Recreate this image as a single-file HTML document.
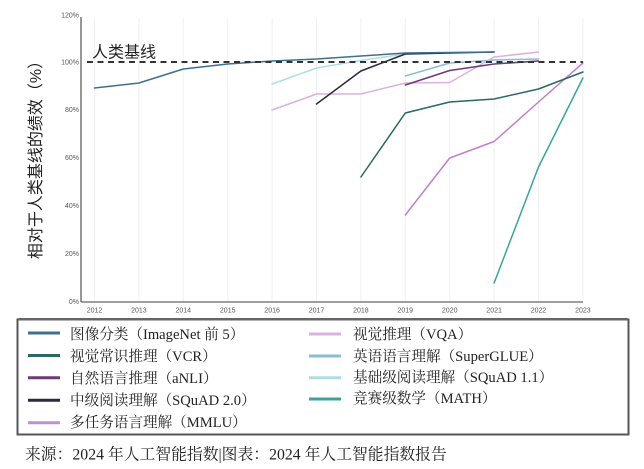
<!DOCTYPE html>
<html>
<head>
<meta charset="utf-8">
<style>
html,body{margin:0;padding:0;background:#fff;}
body{width:644px;height:469px;overflow:hidden;}
svg{display:block;}
.tick{font-family:"Liberation Sans",sans-serif;font-size:7px;fill:#555;}
.leg{font-family:"Liberation Serif","Noto Serif CJK SC",serif;font-size:14.6px;fill:#222;}
</style>
</head>
<body>
<svg width="644" height="469" viewBox="0 0 644 469" xmlns="http://www.w3.org/2000/svg">
  <rect x="0" y="0" width="644" height="469" fill="#fff"/>
  <g stroke="#f1f1f1" stroke-width="1">
    <line x1="94.5" y1="18" x2="94.5" y2="301"/>
    <line x1="138.9" y1="18" x2="138.9" y2="301"/>
    <line x1="183.3" y1="18" x2="183.3" y2="301"/>
    <line x1="227.7" y1="18" x2="227.7" y2="301"/>
    <line x1="272.1" y1="18" x2="272.1" y2="301"/>
    <line x1="316.5" y1="18" x2="316.5" y2="301"/>
    <line x1="360.9" y1="18" x2="360.9" y2="301"/>
    <line x1="405.3" y1="18" x2="405.3" y2="301"/>
    <line x1="449.7" y1="18" x2="449.7" y2="301"/>
    <line x1="494.1" y1="18" x2="494.1" y2="301"/>
    <line x1="538.5" y1="18" x2="538.5" y2="301"/>
    <line x1="582.9" y1="18" x2="582.9" y2="301"/>
  </g>
  <line x1="81" y1="17" x2="81" y2="302" stroke="#777" stroke-width="1.5"/>
  <line x1="81" y1="302" x2="583" y2="302" stroke="#666" stroke-width="1.3"/>
  <g class="tick" text-anchor="end">
    <text x="79" y="17.5">120%</text>
    <text x="79" y="64.5">100%</text>
    <text x="79" y="112">80%</text>
    <text x="79" y="160">60%</text>
    <text x="79" y="208">40%</text>
    <text x="79" y="256">20%</text>
    <text x="79" y="304">0%</text>
  </g>
  <g class="tick" text-anchor="middle">
    <text x="94.5" y="312.5">2012</text>
    <text x="138.9" y="312.5">2013</text>
    <text x="183.3" y="312.5">2014</text>
    <text x="227.7" y="312.5">2015</text>
    <text x="272.1" y="312.5">2016</text>
    <text x="316.5" y="312.5">2017</text>
    <text x="360.9" y="312.5">2018</text>
    <text x="405.3" y="312.5">2019</text>
    <text x="449.7" y="312.5">2020</text>
    <text x="494.1" y="312.5">2021</text>
    <text x="538.5" y="312.5">2022</text>
    <text x="582.9" y="312.5">2023</text>
  </g>
  <text transform="translate(41,156) rotate(-90)" text-anchor="middle" font-family="'Liberation Sans','Noto Sans CJK SC',sans-serif" font-size="16" fill="#222">相对于人类基线的绩效（%）</text>

  <g fill="none" stroke-width="1.5" stroke-linejoin="round" stroke-linecap="round">
    <polyline stroke="#b0dde4" points="272.1,84 316.5,68 360.9,60.5 405.3,54 449.7,53"/>
    <polyline stroke="#8bbcd8" points="405.3,76 449.7,63 494.1,60 538.5,59"/>
    <polyline stroke="#dcb0e0" points="272.1,110 316.5,94 360.9,94 405.3,83 449.7,82.5 494.1,57 538.5,52"/>
    <polyline stroke="#c07fcf" points="405.3,215 449.7,158 494.1,141.5 538.5,102 582.9,63"/>
    <polyline stroke="#3aa39c" points="494.1,283 538.5,167 582.9,78"/>
    <polyline stroke="#2a6864" points="360.9,177 405.3,113 449.7,102 494.1,99 538.5,89 582.9,72"/>
    <polyline stroke="#6b3a78" points="405.3,85 449.7,70.5 494.1,64 538.5,61"/>
    <polyline stroke="#2a2a45" points="316.5,104 360.9,71 405.3,54 449.7,53 494.1,52"/>
    <polyline stroke="#3f6f8f" points="94.5,88 138.9,83 183.3,69 227.7,64 272.1,61 316.5,59 360.9,56 405.3,53 449.7,52.5 494.1,52"/>
  </g>

  <line x1="87" y1="62" x2="583" y2="62" stroke="#333" stroke-width="2" stroke-dasharray="6,4.5"/>
  <text x="92" y="57.5" font-family="'Liberation Sans','Noto Sans CJK SC',sans-serif" font-size="16" fill="#222">人类基线</text>

  <rect x="17.5" y="319.5" width="611" height="115" fill="#fff" stroke="#555" stroke-width="2"/>
  <rect x="18.5" y="318" width="609" height="2.5" fill="#666"/>
  <g stroke-width="3" stroke-linecap="butt">
    <line x1="28" y1="333" x2="60" y2="333" stroke="#3f6f8f"/>
    <line x1="28" y1="355.5" x2="60" y2="355.5" stroke="#2a6864"/>
    <line x1="28" y1="377.7" x2="60" y2="377.7" stroke="#6b3a78"/>
    <line x1="28" y1="400.3" x2="60" y2="400.3" stroke="#2a2a45"/>
    <line x1="28" y1="422.7" x2="60" y2="422.7" stroke="#c48fd0"/>
    <line x1="309" y1="334" x2="341" y2="334" stroke="#dcb0e0"/>
    <line x1="309" y1="356" x2="341" y2="356" stroke="#8bbcd8"/>
    <line x1="309" y1="377.7" x2="341" y2="377.7" stroke="#b0dde4"/>
    <line x1="309" y1="399" x2="341" y2="399" stroke="#3aa39c"/>
  </g>
  <g class="leg">
    <text x="70" y="339">图像分类（ImageNet 前 5）</text>
    <text x="70" y="361">视觉常识推理（VCR）</text>
    <text x="70" y="383">自然语言推理（aNLI）</text>
    <text x="70" y="405">中级阅读理解（SQuAD 2.0）</text>
    <text x="70" y="427">多任务语言理解（MMLU）</text>
    <text x="353" y="339">视觉推理（VQA）</text>
    <text x="353" y="361">英语语言理解（SuperGLUE）</text>
    <text x="353" y="382">基础级阅读理解（SQuAD 1.1）</text>
    <text x="353" y="403">竞赛级数学（MATH）</text>
  </g>

  <text x="25" y="459.5" font-family="'Liberation Serif','Noto Serif CJK SC',serif" font-size="15.8" fill="#222">来源：2024 年人工智能指数|图表：2024 年人工智能指数报告</text>
</svg>
</body>
</html>
